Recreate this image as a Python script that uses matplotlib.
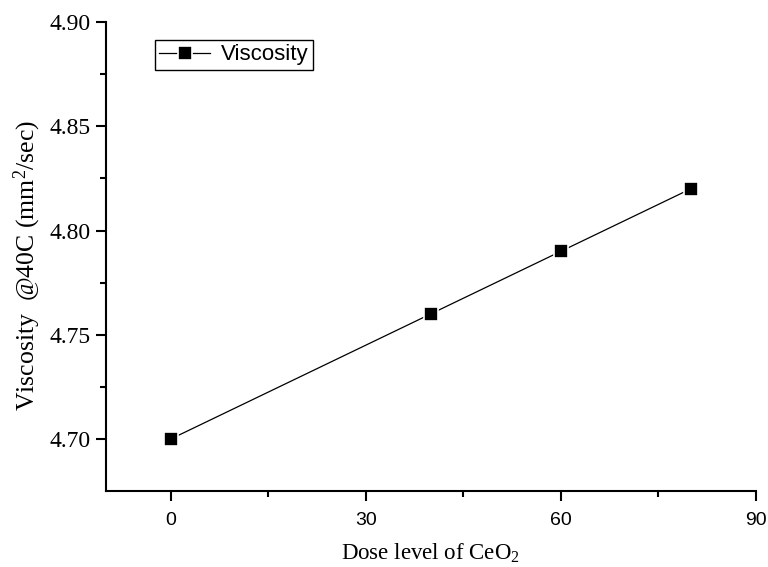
import matplotlib
matplotlib.use("Agg")
import matplotlib.pyplot as plt

# dose level vs viscosity
dose = [0, 40, 60, 80]
viscosity = [4.70, 4.76, 4.79, 4.82]

x_ticks = [0, 30, 60, 90]
y_ticks = [4.70, 4.75, 4.80, 4.85, 4.90]

fig = plt.figure(figsize=(7.68, 5.67), dpi=100)
ax = fig.add_axes([0.138, 0.134, 0.846, 0.827])

ax.plot(dose, viscosity, color="black", lw=0.9, marker="s", ms=9.8,
        mfc="black", mec="white", mew=1.2, label="Viscosity")

ax.set_xlim(-10, 90)
ax.set_ylim(4.675, 4.90)
ax.set_xticks(x_ticks)
ax.set_xticks([15, 45, 75], minor=True)
ax.set_yticks(y_ticks)
ax.set_yticks([4.725, 4.775, 4.825, 4.875], minor=True)
ax.set_yticklabels(["%.2f" % v for v in y_ticks])
ax.set_xticklabels([str(v) for v in x_ticks])
for lbl in ax.get_yticklabels():
    lbl.set_fontfamily("Liberation Serif")
    lbl.set_fontsize(17)
for lbl in ax.get_xticklabels():
    lbl.set_fontfamily("Liberation Sans")
    lbl.set_fontsize(14)

for s in ["top", "right"]:
    ax.spines[s].set_visible(False)
for s in ["left", "bottom"]:
    ax.spines[s].set_linewidth(1.5)
ax.tick_params(which="major", direction="out", length=7, width=1.5)
ax.tick_params(which="minor", direction="out", length=4, width=1.5)
ax.tick_params(axis="y", pad=4)
ax.tick_params(axis="x", pad=8)

ax.set_xlabel(r"Dose level of CeO$\mathregular{_2}$", family="Liberation Serif", fontsize=16.5, labelpad=9)
ax.set_ylabel(r"Viscosity  @40C (mm$\mathregular{^2}$/sec)", family="Liberation Serif", fontsize=18.5, labelpad=5)
ax.yaxis.label.set_y(0.48)

leg = ax.legend(loc="upper left", bbox_to_anchor=(0.075, 0.962), borderaxespad=0,
                fancybox=False, edgecolor="black", framealpha=1,
                prop={"family": "Liberation Sans", "size": 16},
                handlelength=2.3, handletextpad=0.5, borderpad=0.2)
leg.get_frame().set_linewidth(1.0)

fig.savefig("out.png", dpi=100)
